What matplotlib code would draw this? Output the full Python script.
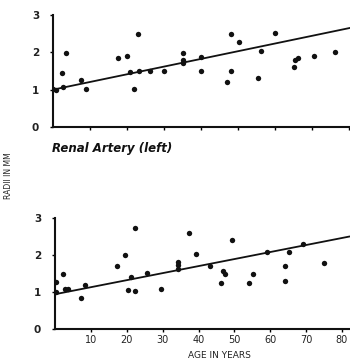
import matplotlib
matplotlib.use("Agg")
import matplotlib.pyplot as plt
import numpy as np

# Top panel data (age, radius)
top_age = [0, 0.9, 2.5, 2.7, 3.6, 7.7, 8.9, 17.7, 20, 20.9, 21.8, 22.9, 23.2, 26.1, 30,
           35, 35, 35, 40, 40, 47, 48, 48, 50.2, 55.3, 56.2, 60, 65, 65.3, 66.2, 70.5, 76.2]
top_rad = [1.03, 1.0, 1.45, 1.06, 1.99, 1.25, 1.03, 1.84, 1.9, 1.48, 1.03, 2.48, 1.5, 1.5, 1.5,
           1.99, 1.79, 1.72, 1.88, 1.5, 1.21, 2.48, 1.5, 2.28, 1.3, 2.03, 2.53, 1.61, 1.79, 1.84, 1.9, 2.01]
top_fit = [1.0, 0.0206]  # intercept, slope

# Bottom panel data
bot_age = [0.3, 0.3, 2.3, 2.8, 3.5, 7.3, 8.4, 17.2, 19.5, 20.4, 21.3, 22.2, 22.4, 25.6, 29.5,
           34.3, 34.3, 34.3, 37.3, 39.3, 43.2, 46.2, 46.8, 47.4, 49.3, 54, 55.3, 59.1, 64, 64,
           65.2, 69.1, 75.1]
bot_rad = [1.28, 1.0, 1.5, 1.07, 1.07, 0.83, 1.2, 1.71, 1.99, 1.05, 1.41, 2.74, 1.02, 1.52, 1.07,
           1.81, 1.72, 1.61, 2.6, 2.04, 1.71, 1.23, 1.56, 1.5, 2.4, 1.23, 1.5, 2.07, 1.71, 1.3,
           2.07, 2.31, 1.79]
bot_fit = [0.94, 0.019]

xticks = [10, 20, 30, 40, 50, 60, 70, 80]
yticks = [0, 1, 2, 3]

W, H = 350, 361
fig = plt.figure(figsize=(W / 100, H / 100), dpi=100)
fig.patch.set_facecolor("white")

def px(l, b, r, t):
    return [l / W, 1 - b / H, (r - l) / W, (b - t) / H]

ax1 = fig.add_axes(px(53, 127, 349, 15))
ax2 = fig.add_axes(px(55, 329, 342, 218))

def style(ax, ages, rads, fit, labels):
    ax.set_xlim(0, 80)
    ax.set_ylim(0, 3)
    ax.scatter(ages, rads, s=15, color="#111111", zorder=3, linewidths=0)
    xs = np.array([0, 82])
    ax.plot(xs, fit[0] + fit[1] * xs, color="#111111", lw=1.3, clip_on=False)
    for s in ["top", "right"]:
        ax.spines[s].set_visible(False)
    for s in ["left", "bottom"]:
        ax.spines[s].set_linewidth(1.5)
        ax.spines[s].set_color("#111111")
    ax.spines["bottom"].set_bounds(0, 82)
    ax.set_yticks(yticks)
    ax.set_yticklabels([str(v) for v in yticks], fontsize=7.5, fontweight="bold", color="#222222")
    ax.set_xticks(xticks)
    if labels:
        ax.set_xticklabels([str(v) for v in xticks], fontsize=7, color="#222222")
    else:
        ax.set_xticklabels([])
    ax.tick_params(axis="y", length=2, width=1, pad=8)
    ax.tick_params(axis="x", length=2, width=1, pad=2, direction="out")
    ax.set_facecolor("none")

style(ax1, top_age, top_rad, top_fit, False)
style(ax2, bot_age, bot_rad, bot_fit, True)
ax1.spines["bottom"].set_bounds(0, 80.5)

fig.text(52 / W, 1 - 148 / H, "Renal Artery (left)", fontsize=8.5, fontweight="bold",
         fontstyle="italic", ha="left", va="center", color="#111111")
fig.text(9 / W, 1 - 176 / H, "RADII IN MM", fontsize=5.5, rotation=90,
         ha="center", va="center", color="#222222")
fig.text(219 / W, 1 - 355 / H, "AGE IN YEARS", fontsize=6.5,
         ha="center", va="center", color="#222222")

fig.savefig("out.png", dpi=100)
